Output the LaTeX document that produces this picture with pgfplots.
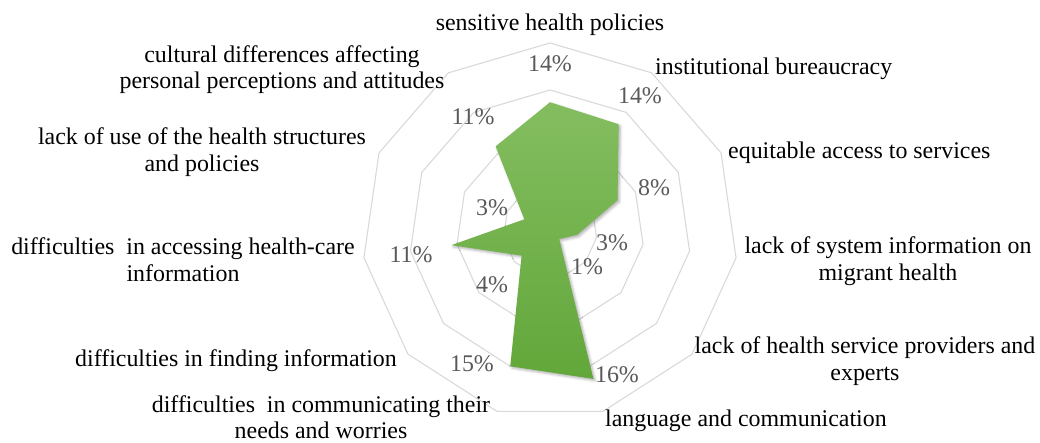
\documentclass[border=0pt]{standalone}
\usepackage{pgfplots}
\pgfplotsset{compat=1.18}
\usetikzlibrary{shadows.blur}
\usepackage{fontspec}
\setmainfont{Liberation Serif}
\definecolor{gridgray}{RGB}{217,217,217}
\definecolor{pctgray}{RGB}{89,89,89}
\definecolor{gtop}{RGB}{132,189,96}
\definecolor{gbot}{RGB}{98,167,58}
\begin{document}
\begin{tikzpicture}
\begin{axis}[
  name=ax,
  x=9.4bp, y=9.4bp,
  xmin=-58.511, xmax=52.128,
  ymin=-22.447, ymax=24.574,
  hide axis, clip=false,
]
\path (rel axis cs:0,0) rectangle (rel axis cs:1,1);
\pgfplotsinvokeforeach{5,10,15,20}{
\addplot[draw=gridgray, line width=1.1bp, mark=none, data cs=polar] coordinates {
 (90,#1) (57.2727,#1) (24.5455,#1) (-8.1818,#1) (-40.9091,#1) (-73.6364,#1)
 (-106.3636,#1) (-139.0909,#1) (-171.8182,#1) (-204.5455,#1) (-237.2727,#1) (90,#1)};
}
\addplot[draw=none, mark=none, data cs=polar, top color=gtop, bottom color=gbot,
  blur shadow={shadow xshift=1.8bp, shadow yshift=-1.8bp, shadow blur radius=2.5bp, shadow opacity=30}]
 coordinates {
 (90,13.7) (57.2727,13.5) (24.5455,7.9) (-8.1818,2.9) (-40.9091,1.3) (-73.6364,16.4)
 (-106.3636,15.0) (-139.0909,4.0) (-171.8182,10.6) (-204.5455,3.0) (-237.2727,10.7) (90,13.7)} -- cycle;
\end{axis}
\begin{scope}[shift={(ax.north west)}, x=1bp, y=-1bp, font=\fontsize{24}{27}\selectfont]
 % percentage labels
 \begin{scope}[text=pctgray]
 \node at (550,64) {14\%};
 \node at (640,96) {14\%};
 \node at (654,188) {8\%};
 \node at (612,243) {3\%};
 \node at (587,267) {1\%};
 \node at (617,375) {16\%};
 \node at (472,364) {15\%};
 \node at (492,285) {4\%};
 \node at (411,255) {11\%};
 \node at (492,208) {3\%};
 \node at (473,117) {11\%};
 \end{scope}
 % category labels
 \node[anchor=base] at (550,31) {sensitive health policies};
 \node[anchor=base west, inner xsep=0pt] at (655,75) {institutional bureaucracy};
 \node[anchor=base west, inner xsep=0pt] at (728,159) {equitable access to services};
 \node[anchor=base] at (888,254) {lack of system information on};
 \node[anchor=base] at (888,281) {migrant health};
 \node[anchor=base] at (865,354) {lack of health service providers and};
 \node[anchor=base] at (865,381) {experts};
 \node[anchor=base] at (746,427) {language and communication};
 \node[anchor=base] at (321,413) {difficulties\ \ in communicating their};
 \node[anchor=base] at (321,439) {needs and worries};
 \node[anchor=base] at (236,367) {difficulties in finding information};
 \node[anchor=base] at (183,255) {difficulties\ \ in accessing health-care};
 \node[anchor=base] at (183,282) {information};
 \node[anchor=base] at (202,145) {lack of use of the health structures};
 \node[anchor=base] at (202,172) {and policies};
 \node[anchor=base] at (282,63) {cultural differences affecting};
 \node[anchor=base] at (282,89) {personal perceptions and attitudes};
\end{scope}
\end{tikzpicture}
\end{document}
